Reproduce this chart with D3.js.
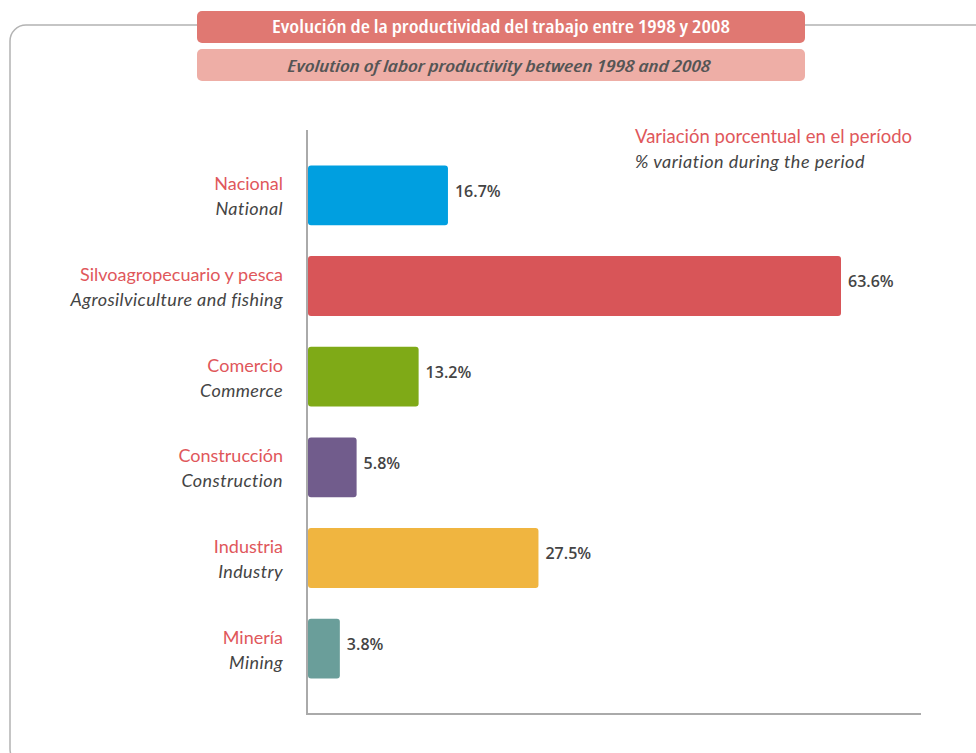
<!DOCTYPE html>
<html>
<head>
<meta charset="utf-8">
<script src="https://cdn.jsdelivr.net/npm/d3@7"></script>
<style>
  body { margin: 0; background: #fff; }
  svg { display: block; }
</style>
</head>
<body>
<svg width="976" height="753"></svg>
<script>
// data
let categoriesEs = ["Nacional", "Silvoagropecuario y pesca", "Comercio", "Construcción", "Industria", "Minería"];
let categoriesEn = ["National", "Agrosilviculture and fishing", "Commerce", "Construction", "Industry", "Mining"];
let values = [16.7, 63.6, 13.2, 5.8, 27.5, 3.8];
let barColors = ["#009fe0", "#d85558", "#7faa17", "#715c8c", "#f0b540", "#6a9e9a"];

let titleEs = "Evolución de la productividad del trabajo entre 1998 y 2008";
let titleEn = "Evolution of labor productivity between 1998 and 2008";
let legendEs = "Variación porcentual en el período";
let legendEn = "% variation during the period";

let svg = d3.select("svg");

// outer frame (rounded, runs off right and bottom)
svg.append("rect")
    .attr("x", 10).attr("y", 25)
    .attr("width", 1000).attr("height", 740)
    .attr("rx", 16)
    .style("fill", "none")
    .style("stroke", "#b3b3b3")
    .style("stroke-width", 1.5);

// title boxes
svg.append("rect")
    .attr("x", 197).attr("y", 11).attr("width", 608).attr("height", 32).attr("rx", 5)
    .style("fill", "#e07872");
svg.append("text")
    .attr("x", 501).attr("y", 33)
    .style("text-anchor", "middle")
    .attr("textLength", 458).attr("lengthAdjust", "spacingAndGlyphs")
    .style("font-family", "'Open Sans', sans-serif")
    .style("font-stretch", "condensed")
    .style("font-weight", "600")
    .style("font-size", "17px")
    .style("fill", "#fff")
    .text(titleEs);

svg.append("rect")
    .attr("x", 197).attr("y", 49).attr("width", 608).attr("height", 32).attr("rx", 5)
    .style("fill", "#eeaea6");
svg.append("text")
    .attr("x", 499).attr("y", 72)
    .style("text-anchor", "middle")
    .attr("textLength", 423).attr("lengthAdjust", "spacingAndGlyphs")
    .style("font-family", "'Open Sans', sans-serif")
    .style("font-stretch", "condensed")
    .style("font-weight", "600")
    .style("font-style", "italic")
    .style("font-size", "17px")
    .style("fill", "#555")
    .text(titleEn);

// scales
let x0 = 308;
let xdim = d3.scaleLinear().domain([0, 63.6]).range([x0, 841]);
let ydim = d3.scaleBand().domain(categoriesEs)
    .range([150, 694]).paddingInner(0.34).paddingOuter(0.17);

// axis lines
svg.append("line")
    .attr("x1", 307).attr("x2", 307).attr("y1", 130).attr("y2", 715)
    .style("stroke", "#aaa").style("stroke-width", 2);
svg.append("line")
    .attr("x1", 306).attr("x2", 921).attr("y1", 714).attr("y2", 714)
    .style("stroke", "#aaa").style("stroke-width", 2);

// bars
svg.selectAll(".bar").data(values).enter().append("rect").attr("class", "bar")
    .attr("x", xdim(0))
    .attr("y", function(d, i) { return ydim(categoriesEs[i]); })
    .attr("width", function(d) { return xdim(d) - xdim(0); })
    .attr("height", ydim.bandwidth())
    .attr("rx", 3)
    .style("fill", function(d, i) { return barColors[i]; });

// value labels
svg.selectAll(".val").data(values).enter().append("text").attr("class", "val")
    .attr("x", function(d) { return xdim(d) + 7; })
    .attr("y", function(d, i) { return ydim(categoriesEs[i]) + ydim.bandwidth() / 2 - 3; })
    .style("dominant-baseline", "middle")
    .style("font-family", "'Open Sans', sans-serif")
    .style("font-weight", "600")
    .style("font-size", "16px")
    .style("fill", "#444")
    .text(function(d) { return d.toFixed(1) + "%"; });

// category labels
svg.selectAll(".labEs").data(categoriesEs).enter().append("text").attr("class", "labEs")
    .attr("x", 283)
    .attr("y", function(d) { return ydim(d) + ydim.bandwidth() / 2 - 5; })
    .style("text-anchor", "end")
    .style("font-family", "Lato, sans-serif")
    .style("font-size", "18px")
    .style("fill", "#e0575b")
    .text(function(d) { return d; });

svg.selectAll(".labEn").data(categoriesEn).enter().append("text").attr("class", "labEn")
    .attr("x", 283)
    .attr("y", function(d, i) { return ydim(categoriesEs[i]) + ydim.bandwidth() / 2 + 20; })
    .style("text-anchor", "end")
    .style("font-family", "Lato, sans-serif")
    .style("font-style", "italic")
    .style("font-size", "18px")
    .style("letter-spacing", "0.4px")
    .style("fill", "#444")
    .text(function(d) { return d; });

// legend note
svg.append("text")
    .attr("x", 635).attr("y", 143)
    .style("font-family", "Lato, sans-serif")
    .style("font-size", "18.5px")
    .style("fill", "#e0575b")
    .text(legendEs);
svg.append("text")
    .attr("x", 635).attr("y", 168)
    .style("font-family", "Lato, sans-serif")
    .style("font-style", "italic")
    .style("font-size", "18px")
    .style("letter-spacing", "0.5px")
    .style("fill", "#444")
    .text(legendEn);
</script>
</body>
</html>
